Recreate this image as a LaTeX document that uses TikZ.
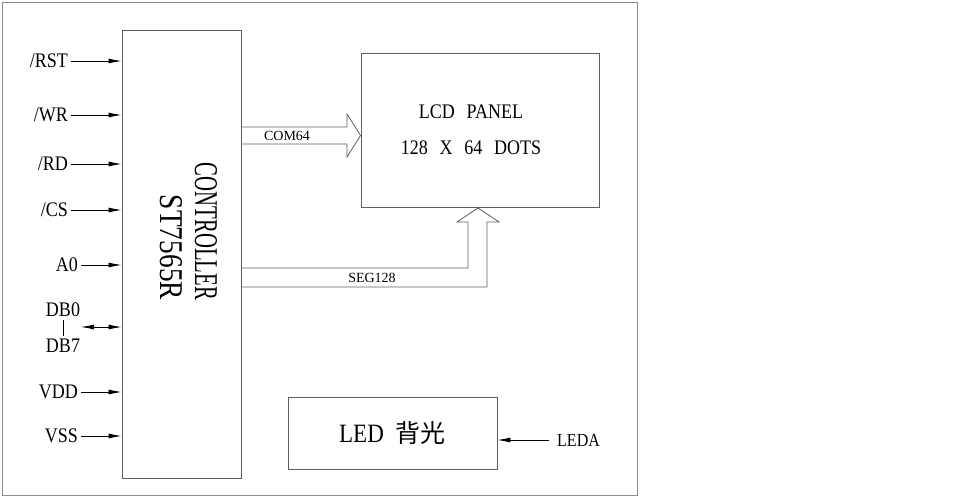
\documentclass[tikz,border=0pt]{standalone}
\usepackage{fontspec}
\setmainfont{Liberation Serif}
\newfontfamily\cjk{Noto Sans CJK SC}
\usetikzlibrary{arrows.meta,positioning,calc}
\definecolor{marco}{RGB}{140,140,140}
\definecolor{linea}{RGB}{95,95,95}
\newcommand{\gap}{\hspace{0.65em}}
\newcommand{\alto}[1]{\scalebox{1}[1.15]{#1}}

\begin{document}
\begin{tikzpicture}[x=1pt,y=-1pt,
box/.style={draw=linea,line width=0.9pt,inner sep=0pt},
pin/.style={anchor=east,inner sep=3pt,font=\fontsize{18}{20}\selectfont},
arr/.style={-{Latex[length=13pt,width=5pt]},line width=0.8pt},
darr/.style={{Latex[length=13pt,width=5pt]}-{Latex[length=13pt,width=5pt]},line width=0.8pt},
bus/.style={draw=linea,line width=0.8pt,line join=miter},
buslbl/.style={font=\fontsize{14}{16}\selectfont,inner sep=1pt}
]
\useasboundingbox (0,0) rectangle (960,498);
\draw[marco,line width=1.5pt] (2.5,2.5) rectangle (637.5,495.5);

% controller
\node[box,minimum width=119pt,minimum height=448pt] (ctrl) at (181.5,254) {};
\node[rotate=-90,inner sep=0pt] (ctrlname) at (206,231.5) {\resizebox{137pt}{22pt}{CONTROLLER}};
\node[rotate=-90,inner sep=0pt] (ctrlchip) at (171,247.5) {\resizebox{105pt}{22pt}{ST7565R}};

% pins
\foreach \n/\t/\y/\x in {rst/{/RST}/61/71,wr/{/WR}/115/71,rd/{/RD}/164/71,cs/{/CS}/210/71,
  a0/A0/265/81,vdd/VDD/392/81,vss/VSS/436/81}{
  \node[pin] (\n) at (\x,\y) {\alto{\t}};
  \draw[arr] (\n.east) -- (\n.east -| ctrl.west);
}
\node[pin,anchor=center] (db0) at (63,310) {\alto{DB0}};
\node[pin,anchor=center] (db7) at (63,346) {\alto{DB7}};
\draw[line width=0.8pt] (db0.south) -- (db7.north);
\coordinate (dbpin) at (81,327);
\draw[darr] (dbpin) -- (dbpin -| ctrl.west);

% lcd panel
\node[box,minimum width=238pt,minimum height=154pt] (lcd) at (480,130.5) {};
\node[align=center,font=\fontsize{18}{36}\selectfont] (lcdtxt) at (471,130)
  {\alto{LCD\gap PANEL}\\\alto{128\gap X\gap 64\gap DOTS}};

% buses
\draw[bus] (ctrl.east |- 0,127) -- (347,127) -- (347,114) -- (lcd.west |- 0,135.5)
  -- (347,157) -- (347,144) -- (ctrl.east |- 0,144);
\node[buslbl] (com) at (287,136) {COM64};
\draw[bus] (ctrl.east |- 0,268) -- (468,268) -- (468,222) -- (457,222) -- (lcd.south -| 478,0)
  -- (499,222) -- (487,222) -- (487,287) -- (ctrl.east |- 0,287);
\node[buslbl] (seg) at (372,278) {SEG128};

% backlight
\node[box,minimum width=209pt,minimum height=72pt,font=\fontsize{23}{26}\selectfont] (led) at (392.5,433)
  {\alto{LED}\hspace{12pt}{\cjk\fontsize{25}{26}\selectfont 背光}};
\node[pin,anchor=west,inner xsep=8pt,font=\fontsize{16}{18}\selectfont] (leda) at (549,440) {\alto{LEDA}};
\draw[arr] (leda.west) -- (leda.west -| led.east);
\end{tikzpicture}
\end{document}
